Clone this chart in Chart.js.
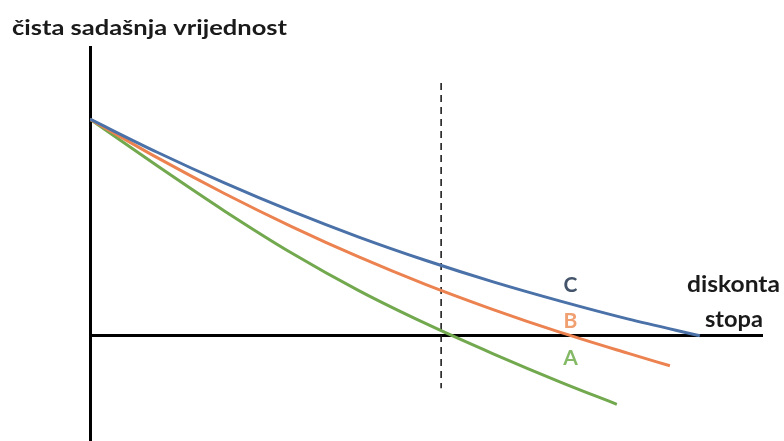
<!DOCTYPE html>
<html>
<head>
<meta charset="utf-8">
<script src="https://cdn.jsdelivr.net/npm/chart.js@4"></script>
<style>
  html, body { margin: 0; padding: 0; background: #fff; }
  #wrap { width: 784px; height: 441px; position: relative; }
</style>
</head>
<body>
<div id="wrap"><canvas id="npvChart"></canvas></div>
<script>
// discount rate (x) and net present value (y)
const ratesC = [0, 2, 4, 6, 8, 10, 12, 14, 16, 18.15];
const npvC   = [72, 61, 50.8, 41.4, 32.8, 25.0, 17.9, 11.5, 5.6, 0];

const ratesB = [0, 2, 4, 6, 8, 10, 12, 14, 16, 17.26];
const npvB   = [72, 59.2, 47.3, 36.3, 26.2, 17.0, 8.7, 1.1, -5.8, -10.0];

const ratesA = [0, 2, 4, 6, 8, 10, 12, 14, 15.68];
const npvA   = [72, 56.5, 41.5, 27.5, 15, 4, -6, -15.4, -22.8];

const markerRate = 10.45;          // dashed vertical line
const markerRange = [84, -17.5];

const xRange = [0, 20];
const yRange = [-35, 96];

const seriesNames  = ['A', 'B', 'C'];
const yTitle = 'čista sadašnja vrijednost';
const xTitle = ['diskonta', 'stopa'];

function pts(xs, ys) { return xs.map((x, i) => ({ x: x, y: ys[i] })); }

const lineStyle = { fill: false, pointRadius: 0, borderWidth: 3, cubicInterpolationMode: 'monotone' };

// the source picture is stretched sideways, so text is squeezed to a width
function fitText(ctx, text, left, baseline, width) {
  const w = ctx.measureText(text).width;
  ctx.save();
  ctx.translate(left, baseline);
  ctx.scale(width / w, 1);
  ctx.fillText(text, 0, 0);
  ctx.restore();
}

// text labels: title, series letters and x axis name
const textPlugin = {
  id: 'texts',
  afterDraw(chart) {
    const ctx = chart.ctx;
    const xs = chart.scales.x;
    ctx.save();
    ctx.fillStyle = '#1a1a1a';
    ctx.textBaseline = 'alphabetic';
    ctx.textAlign = 'left';
    ctx.font = 'bold 21px Lato, "Open Sans", sans-serif';
    fitText(ctx, yTitle, 12, 35, 275);

    ctx.font = 'bold 22px Lato, "Open Sans", sans-serif';
    fitText(ctx, xTitle[0], 687, 292, 93);
    fitText(ctx, xTitle[1], 705, 327, 58);

    const lx = xs.getPixelForValue(14.3);
    ctx.textAlign = 'center';
    ctx.font = 'bold 21px Lato, "Open Sans", sans-serif';
    ctx.fillStyle = '#44546a';
    ctx.fillText(seriesNames[2], lx, 292);
    ctx.fillStyle = '#f0a070';
    ctx.fillText(seriesNames[1], lx, 328);
    ctx.fillStyle = '#84b966';
    ctx.fillText(seriesNames[0], lx, 365);
    ctx.restore();
  }
};

new Chart(document.getElementById('npvChart'), {
  type: 'line',
  data: {
    datasets: [
      Object.assign({ label: 'C', data: pts(ratesC, npvC), borderColor: '#4a71a8' }, lineStyle),
      Object.assign({ label: 'B', data: pts(ratesB, npvB), borderColor: '#ec8250' }, lineStyle),
      Object.assign({ label: 'A', data: pts(ratesA, npvA), borderColor: '#72a94f' }, lineStyle),
      {
        label: 'marker',
        data: pts([markerRate, markerRate], markerRange),
        borderColor: '#111',
        borderWidth: 1.5,
        borderDash: [7, 5],
        pointRadius: 0,
        fill: false
      }
    ]
  },
  options: {
    responsive: true,
    maintainAspectRatio: false,
    animation: false,
    layout: { padding: { left: 90, right: 22, top: 47, bottom: 0 } },
    plugins: {
      legend: { display: false },
      tooltip: { enabled: false },
      title: { display: false }
    },
    scales: {
      x: {
        type: 'linear',
        min: xRange[0], max: xRange[1],
        position: { y: 0 },
        grid: { display: false, drawTicks: false },
        ticks: { display: false },
        border: { display: true, color: '#000', width: 3 }
      },
      y: {
        type: 'linear',
        min: yRange[0], max: yRange[1],
        position: 'left',
        grid: { display: false, drawTicks: false },
        ticks: { display: false },
        border: { display: true, color: '#000', width: 3 }
      }
    }
  },
  plugins: [textPlugin]
});
</script>
</body>
</html>
